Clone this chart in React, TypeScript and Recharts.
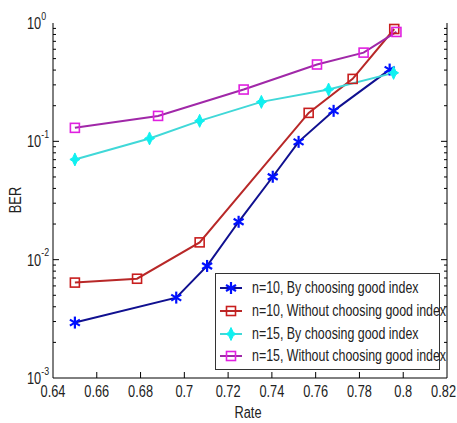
import React from "react";
import { LineChart, Line, XAxis, YAxis, Legend } from "recharts";

const rateN10Good = [0.65, 0.6963, 0.7104, 0.7248, 0.7404, 0.7522, 0.7682, 0.7938];
const berN10Good = [0.00294, 0.00478, 0.00885, 0.0209, 0.0502, 0.099, 0.181, 0.404];
const rateN10Without = [0.65, 0.6784, 0.707, 0.7568, 0.7769, 0.7959];
const berN10Without = [0.0064, 0.0069, 0.014, 0.174, 0.337, 0.89];
const rateN15Good = [0.65, 0.6841, 0.707, 0.7352, 0.7659, 0.7956];
const berN15Good = [0.0703, 0.1058, 0.149, 0.2155, 0.274, 0.379];
const rateN15Without = [0.65, 0.688, 0.7271, 0.7606, 0.7819, 0.7969];
const berN15Without = [0.13, 0.164, 0.274, 0.446, 0.562, 0.84];

const seriesNames = [
  "n=10, By choosing good index",
  "n=10, Without choosing good index",
  "n=15, By choosing good index",
  "n=15, Without choosing good index",
];

const xTicks = [0.64, 0.66, 0.68, 0.7, 0.72, 0.74, 0.76, 0.78, 0.8, 0.82];
const yTicks = [
  0.001, 0.002, 0.003, 0.004, 0.005, 0.006, 0.007, 0.008, 0.009,
  0.01, 0.02, 0.03, 0.04, 0.05, 0.06, 0.07, 0.08, 0.09,
  0.1, 0.2, 0.3, 0.4, 0.5, 0.6, 0.7, 0.8, 0.9, 1,
];

const FONT = "'Liberation Sans', Arial, sans-serif";
const NARROW = 0.8;
const LEGEND_NARROW = 0.775;

const zip = (xs: number[], ys: number[]) => xs.map((x, i) => ({ rate: x, ber: ys[i] }));
const dataN10Good = zip(rateN10Good, berN10Good);
const dataN10Without = zip(rateN10Without, berN10Without);
const dataN15Good = zip(rateN15Good, berN15Good);
const dataN15Without = zip(rateN15Without, berN15Without);

const COLORS = {
  n10g: { line: "#101090", mark: "#0010ff" },
  n10w: { line: "#b82828", mark: "#c81e1e" },
  n15g: { line: "#40d8d8", mark: "#10f0f0" },
  n15w: { line: "#a028a8", mark: "#e020e0" },
};

type MarkKind = "star" | "square" | "diamond";

const MarkerShape = ({ cx, cy, kind, color }: { cx: number; cy: number; kind: MarkKind; color: string }) => {
  if (kind === "square") {
    return <rect x={cx - 4.5} y={cy - 4.5} width={9} height={9} fill="none" stroke={color} strokeWidth={1.6} />;
  }
  if (kind === "star") {
    const r = 5;
    return (
      <g stroke={color} strokeWidth={2.2}>
        <line x1={cx} y1={cy - r - 1} x2={cx} y2={cy + r + 1} />
        <line x1={cx - r} y1={cy - r * 0.6} x2={cx + r} y2={cy + r * 0.6} />
        <line x1={cx - r} y1={cy + r * 0.6} x2={cx + r} y2={cy - r * 0.6} />
      </g>
    );
  }
  const pts = [
    [0, -6.5], [2.2, -1.8], [5, 0], [2.2, 1.8], [0, 6.5], [-2.2, 1.8], [-5, 0], [-2.2, -1.8],
  ]
    .map(([dx, dy]) => `${cx + dx},${cy + dy}`)
    .join(" ");
  return <polygon points={pts} fill={color} stroke={color} strokeWidth={1} />;
};

const makeDot = (kind: MarkKind, color: string) => (props: any) => {
  const { cx, cy, index } = props;
  if (cx == null || cy == null) return <g key={`d-${index}`} />;
  return (
    <g key={`d-${kind}-${color}-${index}`}>
      <MarkerShape cx={cx} cy={cy} kind={kind} color={color} />
    </g>
  );
};

const isMajor = (v: number) => {
  const l = Math.log10(v);
  return Math.abs(l - Math.round(l)) < 1e-6;
};

const LeftTick = (props: any) => {
  const { x, y, payload } = props;
  const v = payload.value;
  const major = isMajor(v);
  const exp = Math.round(Math.log10(v));
  const showTickLine = v > 0.0011 && v < 0.99;
  return (
    <g>
      {showTickLine && <line x1={x} x2={x + (major ? 6 : 3)} y1={y} y2={y} stroke="#000" strokeWidth={1} />}
      {major && (
        <g transform={`translate(${x - 26},${y + 6}) scale(${NARROW},1)`}>
          <text x={0} y={0} textAnchor="start" fontFamily={FONT} fontSize={16} fill="#222">
            10
            <tspan dy={-9.5} fontSize={11}>{exp}</tspan>
          </text>
        </g>
      )}
    </g>
  );
};

const RightTick = (props: any) => {
  const { x, y, payload } = props;
  const v = payload.value;
  const major = isMajor(v);
  const showTickLine = v > 0.0011 && v < 0.99;
  if (!showTickLine) return <g />;
  return <line x1={x} x2={x - (major ? 6 : 3)} y1={y} y2={y} stroke="#000" strokeWidth={1} />;
};

const BottomTick = (props: any) => {
  const { x, y, payload } = props;
  const v = payload.value;
  const edge = v < 0.641 || v > 0.819;
  const last = v > 0.819;
  return (
    <g>
      {!edge && <line x1={x} x2={x} y1={y} y2={y - 6} stroke="#000" strokeWidth={1} />}
      <g transform={`translate(${last ? 456 : x},${y + 19}) scale(${NARROW},1)`}>
        <text x={0} y={0} textAnchor={last ? "end" : "middle"} fontFamily={FONT} fontSize={16} fill="#222">
          {String(v)}
        </text>
      </g>
    </g>
  );
};

const TopTick = (props: any) => {
  const { x, y, payload } = props;
  const v = payload.value;
  const edge = v < 0.641 || v > 0.819;
  if (edge) return <g />;
  return <line x1={x} x2={x} y1={y} y2={y + 6} stroke="#000" strokeWidth={1} />;
};

const legendItems: { name: string; kind: MarkKind; c: { line: string; mark: string } }[] = [
  { name: seriesNames[0], kind: "star", c: COLORS.n10g },
  { name: seriesNames[1], kind: "square", c: COLORS.n10w },
  { name: seriesNames[2], kind: "diamond", c: COLORS.n15g },
  { name: seriesNames[3], kind: "square", c: COLORS.n15w },
];

const LegendBox = () => (
  <div
    style={{
      width: 225,
      height: 97,
      border: "1px solid #333",
      background: "#fff",
      boxSizing: "border-box",
      position: "relative",
      paddingTop: 3,
    }}
  >
    {legendItems.map((it) => (
      <div key={it.name} style={{ display: "flex", alignItems: "center", height: 22.7 }}>
        <svg width={30} height={16} style={{ flex: "none", marginLeft: 3 }}>
          <line x1={1} x2={23} y1={8} y2={8} stroke={it.c.line} strokeWidth={2} />
          <MarkerShape cx={12} cy={8} kind={it.kind} color={it.c.mark} />
        </svg>
        <span
          style={{
            display: "inline-block",
            fontFamily: FONT,
            fontSize: 16,
            color: "#222",
            whiteSpace: "nowrap",
            transform: `scaleX(${LEGEND_NARROW})`,
            transformOrigin: "0 50%",
            marginLeft: 3,
            lineHeight: "18px",
          }}
        >
          {it.name}
        </span>
      </div>
    ))}
  </div>
);

export default function App() {
  return (
    <div style={{ position: "absolute", left: 0, top: 0, width: 457, height: 423, background: "#fff" }}>
      <LineChart width={457} height={423} margin={{ top: 23, right: 0, left: 0, bottom: 15 }}>
        <XAxis
          xAxisId="bottom"
          dataKey="rate"
          type="number"
          domain={[0.64, 0.82]}
          ticks={xTicks}
          interval={0}
          allowDataOverflow
          height={30}
          tickSize={0}
          tickMargin={0}
          tickLine={false}
          axisLine={{ stroke: "#000" }}
          tick={<BottomTick />}
        />
        <XAxis
          xAxisId="top"
          orientation="top"
          dataKey="rate"
          type="number"
          domain={[0.64, 0.82]}
          ticks={xTicks}
          interval={0}
          allowDataOverflow
          height={0}
          tickSize={0}
          tickMargin={0}
          tickLine={false}
          axisLine={{ stroke: "#000" }}
          tick={<TopTick />}
        />
        <YAxis
          yAxisId="left"
          dataKey="ber"
          type="number"
          scale="log"
          domain={[0.001, 1]}
          ticks={yTicks}
          interval={0}
          allowDataOverflow
          width={53}
          tickSize={0}
          tickMargin={0}
          tickLine={false}
          axisLine={{ stroke: "#000" }}
          tick={<LeftTick />}
        />
        <YAxis
          yAxisId="right"
          orientation="right"
          dataKey="ber"
          type="number"
          scale="log"
          domain={[0.001, 1]}
          ticks={yTicks}
          interval={0}
          allowDataOverflow
          width={10}
          tickSize={0}
          tickMargin={0}
          tickLine={false}
          axisLine={{ stroke: "#000" }}
          tick={<RightTick />}
        />
        <Legend
          layout="horizontal"
          verticalAlign="middle"
          align="center"
          content={() => <LegendBox />}
          wrapperStyle={{ position: "absolute", left: 215, top: 273, width: 225, height: 97 }}
        />
        <Line
          xAxisId="bottom"
          yAxisId="left"
          data={dataN10Good}
          dataKey="ber"
          name={seriesNames[0]}
          stroke={COLORS.n10g.line}
          strokeWidth={2}
          dot={makeDot("star", COLORS.n10g.mark)}
          isAnimationActive={false}
        />
        <Line
          xAxisId="bottom"
          yAxisId="left"
          data={dataN10Without}
          dataKey="ber"
          name={seriesNames[1]}
          stroke={COLORS.n10w.line}
          strokeWidth={2}
          dot={makeDot("square", COLORS.n10w.mark)}
          isAnimationActive={false}
        />
        <Line
          xAxisId="bottom"
          yAxisId="left"
          data={dataN15Good}
          dataKey="ber"
          name={seriesNames[2]}
          stroke={COLORS.n15g.line}
          strokeWidth={2}
          dot={makeDot("diamond", COLORS.n15g.mark)}
          isAnimationActive={false}
        />
        <Line
          xAxisId="bottom"
          yAxisId="left"
          data={dataN15Without}
          dataKey="ber"
          name={seriesNames[3]}
          stroke={COLORS.n15w.line}
          strokeWidth={2}
          dot={makeDot("square", COLORS.n15w.mark)}
          isAnimationActive={false}
        />
      </LineChart>
      <div
        style={{
          position: "absolute",
          left: 248,
          top: 405,
          transform: `translateX(-50%) scaleX(${NARROW})`,
          fontFamily: FONT,
          fontSize: 16,
          color: "#222",
          whiteSpace: "nowrap",
          lineHeight: "16px",
        }}
      >
        Rate
      </div>
      <div
        style={{
          position: "absolute",
          left: 16,
          top: 200,
          transform: `translate(-50%, -50%) rotate(-90deg) scaleX(${NARROW})`,
          fontFamily: FONT,
          fontSize: 16,
          color: "#222",
          whiteSpace: "nowrap",
          lineHeight: "16px",
        }}
      >
        BER
      </div>
    </div>
  );
}
